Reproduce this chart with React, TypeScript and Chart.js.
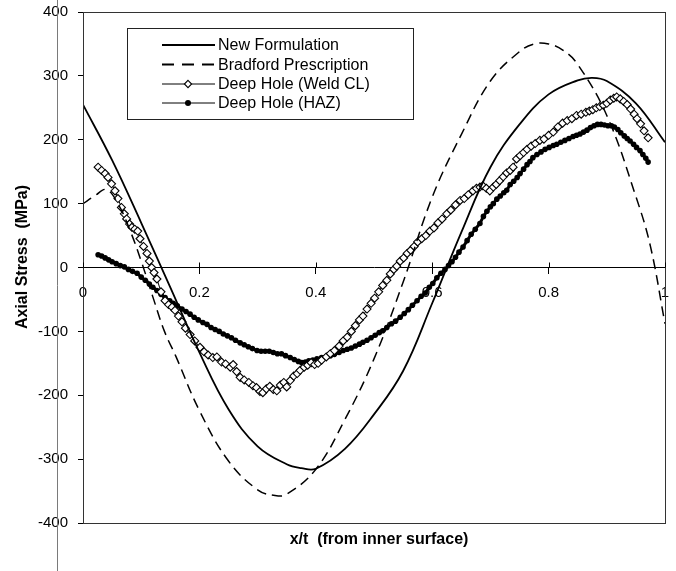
import React, { useEffect, useRef } from 'react';
import { Chart, registerables } from 'chart.js';

Chart.register(...registerables);

const FONT = '"Liberation Sans", Arial, Helvetica, sans-serif';

const xTickLabels = ['0', '0.2', '0.4', '0.6', '0.8', '1'];
const yTickValues = [-400, -300, -200, -100, 0, 100, 200, 300, 400];
const yTickLabels = ['-400', '-300', '-200', '-100', '0', '100', '200', '300', '400'];

const seriesNames = ['New Formulation', 'Bradford Prescription', 'Deep Hole (Weld CL)', 'Deep Hole (HAZ)'];

const newFormX = [0, 0.05, 0.1, 0.15, 0.2, 0.25, 0.3, 0.35, 0.375, 0.4, 0.45, 0.5, 0.55, 0.6, 0.65, 0.7, 0.75, 0.8, 0.85, 0.875, 0.9, 0.95, 1.0];
const newFormY = [255, 168, 70, -31, -133, -222, -280, -308, -314, -315, -284, -230, -162, -56, 55, 157, 224, 271, 293, 297, 292, 257, 196];

const bradfordX = [0, 0.02, 0.04, 0.06, 0.08, 0.1, 0.12, 0.14, 0.16, 0.2, 0.25, 0.3, 0.33, 0.35, 0.4, 0.45, 0.5, 0.55, 0.6, 0.65, 0.7, 0.75, 0.775, 0.8, 0.825, 0.85, 0.9, 0.95, 0.975, 1.0];
const bradfordY = [100, 112, 122, 100, 60, 10, -46, -100, -140, -224, -303, -348, -357, -355, -316, -238, -143, -23, 110, 208, 292, 338, 350, 350, 340, 318, 238, 111, 33, -88];

const weldX = [0.026, 0.032, 0.038, 0.043, 0.049, 0.055, 0.06, 0.066, 0.071, 0.075, 0.08, 0.084, 0.089, 0.094, 0.098, 0.104, 0.11, 0.114, 0.118, 0.122, 0.127, 0.134, 0.141, 0.147, 0.153, 0.158, 0.164, 0.17, 0.176, 0.184, 0.192, 0.201, 0.208, 0.215, 0.223, 0.23, 0.238, 0.245, 0.253, 0.258, 0.264, 0.27, 0.277, 0.285, 0.292, 0.298, 0.304, 0.309, 0.315, 0.321, 0.327, 0.333, 0.339, 0.345, 0.35, 0.356, 0.362, 0.368, 0.373, 0.38, 0.386, 0.392, 0.398, 0.404, 0.41, 0.418, 0.425, 0.432, 0.44, 0.447, 0.454, 0.461, 0.468, 0.475, 0.481, 0.488, 0.495, 0.501, 0.508, 0.515, 0.522, 0.528, 0.534, 0.539, 0.545, 0.551, 0.557, 0.563, 0.569, 0.575, 0.582, 0.589, 0.596, 0.603, 0.61, 0.617, 0.625, 0.632, 0.64, 0.648, 0.655, 0.662, 0.67, 0.676, 0.682, 0.687, 0.693, 0.699, 0.705, 0.71, 0.716, 0.722, 0.728, 0.734, 0.739, 0.745, 0.751, 0.757, 0.763, 0.77, 0.777, 0.785, 0.792, 0.8, 0.808, 0.816, 0.824, 0.832, 0.84, 0.848, 0.856, 0.864, 0.87, 0.876, 0.882, 0.888, 0.894, 0.9, 0.906, 0.912, 0.917, 0.923, 0.929, 0.935, 0.941, 0.947, 0.952, 0.958, 0.964, 0.971];
const weldY = [157, 152, 147, 141, 131, 120, 108, 94, 84, 76, 68, 63, 60, 57, 45, 33, 22, 10, 0, -8, -18, -38, -52, -58, -62, -67, -76, -85, -95, -105, -115, -125, -132, -137, -141, -140, -148, -151, -156, -152, -163, -172, -176, -180, -185, -188, -194, -196, -190, -186, -191, -193, -184, -180, -187, -177, -170, -166, -161, -156, -153, -149, -152, -150, -145, -140, -135, -130, -123, -115, -109, -100, -91, -82, -76, -65, -56, -48, -38, -28, -20, -10, -3, 2, 10, 15, 22, 27, 33, 40, 45, 50, 57, 62, 70, 76, 84, 90, 98, 105, 108, 114, 120, 124, 126, 128, 124, 120, 126, 130, 136, 142, 148, 152, 157, 170, 175, 180, 185, 190, 194, 199, 201, 207, 212, 220, 226, 230, 233, 238, 240, 243, 245, 247, 250, 252, 254, 257, 262, 265, 267, 264, 260, 255, 248, 240, 233, 225, 214, 203];

const hazX = [0.026, 0.032, 0.038, 0.044, 0.05, 0.057, 0.064, 0.071, 0.078, 0.085, 0.093, 0.1, 0.107, 0.114, 0.12, 0.127, 0.134, 0.141, 0.149, 0.155, 0.162, 0.17, 0.177, 0.184, 0.191, 0.198, 0.206, 0.213, 0.22, 0.227, 0.234, 0.241, 0.248, 0.255, 0.262, 0.27, 0.277, 0.284, 0.291, 0.299, 0.306, 0.313, 0.32, 0.327, 0.334, 0.341, 0.348, 0.356, 0.363, 0.37, 0.376, 0.382, 0.388, 0.395, 0.402, 0.41, 0.418, 0.425, 0.432, 0.44, 0.447, 0.454, 0.461, 0.468, 0.475, 0.481, 0.488, 0.495, 0.502, 0.509, 0.515, 0.522, 0.53, 0.537, 0.545, 0.552, 0.559, 0.566, 0.574, 0.581, 0.588, 0.595, 0.601, 0.608, 0.615, 0.622, 0.628, 0.634, 0.64, 0.646, 0.653, 0.66, 0.667, 0.674, 0.682, 0.688, 0.694, 0.7, 0.705, 0.711, 0.717, 0.723, 0.728, 0.734, 0.74, 0.746, 0.751, 0.757, 0.763, 0.768, 0.773, 0.78, 0.787, 0.794, 0.801, 0.808, 0.814, 0.821, 0.828, 0.835, 0.842, 0.848, 0.854, 0.86, 0.866, 0.872, 0.878, 0.884, 0.89, 0.896, 0.902, 0.908, 0.913, 0.919, 0.924, 0.93, 0.935, 0.94, 0.946, 0.951, 0.957, 0.962, 0.967, 0.971];
const hazY = [20, 18, 15, 12, 9, 6, 3, 1, -3, -6, -9, -15, -20, -26, -31, -36, -42, -47, -52, -56, -60, -65, -69, -73, -78, -82, -86, -89, -94, -97, -100, -104, -107, -110, -114, -118, -121, -124, -127, -130, -131, -131, -131, -133, -135, -135, -138, -141, -144, -147, -149, -148, -146, -145, -143, -141, -140, -138, -136, -133, -130, -128, -126, -123, -120, -117, -114, -110, -106, -102, -99, -94, -88, -84, -78, -72, -66, -59, -52, -45, -40, -31, -25, -16, -9, -3, 3, 9, 16, 24, 32, 42, 52, 60, 69, 80, 88, 95, 100, 107, 112, 117, 121, 130, 135, 141, 147, 154, 161, 166, 172, 177, 181, 185, 188, 191, 193, 196, 199, 202, 205, 207, 209, 212, 215, 219, 222, 224, 224, 223, 222, 222, 220, 216, 211, 206, 202, 198, 193, 188, 183, 177, 171, 165];

const toPts = (xs: number[], ys: number[]) => xs.map((x, i) => ({ x, y: ys[i] }));

const decorPlugin = {
  id: 'decor',
  afterDraw(chart: any) {
    const { ctx, chartArea } = chart;
    const { left, top, right, bottom } = chartArea;
    ctx.save();
    ctx.strokeStyle = '#7a7a7a';
    ctx.lineWidth = 1;
    ctx.beginPath();
    ctx.moveTo(57.5, 0);
    ctx.lineTo(57.5, chart.height);
    ctx.stroke();
    ctx.strokeStyle = '#333';
    ctx.lineWidth = 1;
    ctx.strokeRect(Math.round(left) + 0.5, Math.round(top) + 0.5, Math.round(right - left), Math.round(bottom - top));
    const xs = chart.scales.x;
    const y0 = chart.scales.y.getPixelForValue(0);
    ctx.strokeStyle = '#000';
    xs.ticks.forEach((t: any) => {
      const px = Math.round(xs.getPixelForValue(t.value)) + 0.5;
      ctx.beginPath();
      ctx.moveTo(px, y0 - 5);
      ctx.lineTo(px, y0);
      ctx.stroke();
    });
    ctx.fillStyle = '#000';
    ctx.font = `bold 16px ${FONT}`;
    ctx.textAlign = 'center';
    ctx.textBaseline = 'middle';
    ctx.fillText('x/t  (from inner surface)', 379, 540);
    ctx.save();
    ctx.translate(23, 257);
    ctx.rotate(-Math.PI / 2);
    ctx.fillText('Axial Stress  (MPa)', 0, 0);
    ctx.restore();
    const bx = 127.5, by = 28.5, bw = 286, bh = 91;
    ctx.fillStyle = '#fff';
    ctx.fillRect(bx, by, bw, bh);
    ctx.strokeStyle = '#222';
    ctx.lineWidth = 1;
    ctx.strokeRect(bx, by, bw, bh);
    const rows = [45, 64.5, 84, 103];
    const x1 = 162, x2 = 215, mx = 188;
    ctx.font = `16px ${FONT}`;
    ctx.textAlign = 'left';
    ctx.textBaseline = 'middle';
    rows.forEach((ry, i) => {
      ctx.strokeStyle = '#000';
      ctx.setLineDash(i === 1 ? [12, 8] : []);
      ctx.lineWidth = i < 2 ? 1.8 : 1;
      ctx.beginPath();
      ctx.moveTo(x1, ry);
      ctx.lineTo(x2, ry);
      ctx.stroke();
      ctx.setLineDash([]);
      if (i === 2) {
        ctx.fillStyle = '#fff';
        ctx.lineWidth = 1.1;
        ctx.beginPath();
        ctx.moveTo(mx, ry - 3.6);
        ctx.lineTo(mx + 3.6, ry);
        ctx.lineTo(mx, ry + 3.6);
        ctx.lineTo(mx - 3.6, ry);
        ctx.closePath();
        ctx.fill();
        ctx.stroke();
      } else if (i === 3) {
        ctx.fillStyle = '#000';
        ctx.beginPath();
        ctx.arc(mx, ry, 3, 0, Math.PI * 2);
        ctx.fill();
      }
      ctx.fillStyle = '#000';
      ctx.fillText(seriesNames[i], 218, ry + 1);
    });
    ctx.restore();
  },
};

export default function App() {
  const ref = useRef<HTMLCanvasElement | null>(null);
  useEffect(() => {
    if (!ref.current) return;
    const chart = new Chart(ref.current, {
      type: 'line',
      data: {
        datasets: [
          {
            label: seriesNames[0],
            data: toPts(newFormX, newFormY),
            borderColor: '#000',
            borderWidth: 1.8,
            pointRadius: 0,
            tension: 0.4,
            fill: false,
          },
          {
            label: seriesNames[1],
            data: toPts(bradfordX, bradfordY),
            borderColor: '#000',
            borderWidth: 1.5,
            borderDash: [10, 6],
            pointRadius: 0,
            tension: 0.4,
            fill: false,
          },
          {
            label: seriesNames[2],
            data: toPts(weldX, weldY),
            borderColor: '#000',
            borderWidth: 1,
            pointStyle: 'rectRot',
            pointRadius: 4,
            pointBackgroundColor: '#fff',
            pointBorderColor: '#000',
            pointBorderWidth: 1.1,
            tension: 0,
            fill: false,
          },
          {
            label: seriesNames[3],
            data: toPts(hazX, hazY),
            borderColor: '#000',
            borderWidth: 3,
            pointStyle: 'circle',
            pointRadius: 2.8,
            pointBackgroundColor: '#000',
            pointBorderWidth: 0,
            tension: 0,
            fill: false,
          },
        ],
      },
      options: {
        animation: false,
        responsive: true,
        maintainAspectRatio: false,
        layout: { padding: { top: 12, right: 11, bottom: 48, left: 0 } },
        plugins: { legend: { display: false }, tooltip: { enabled: false }, title: { display: false } },
        scales: {
          x: {
            type: 'linear',
            min: 0,
            max: 1,
            position: { y: 0 } as any,
            ticks: {
              stepSize: 0.2,
              autoSkip: false,
              maxRotation: 0,
              padding: 10,
              color: '#000',
              font: { size: 15, family: FONT },
              callback: (_v: any, i: number) => xTickLabels[i] ?? '',
            },
            grid: { display: true, drawOnChartArea: false, drawTicks: true, tickLength: 6, color: '#000' },
            border: { display: true, color: '#000', width: 1 },
            afterFit: (s: any) => {
              s.paddingLeft = 0;
              s.paddingRight = 0;
              s.paddingTop = 0;
              s.paddingBottom = 0;
            },
          },
          y: {
            type: 'linear',
            min: -400,
            max: 400,
            ticks: {
              stepSize: 100,
              padding: 10,
              color: '#000',
              font: { size: 15, family: FONT },
              callback: (v: any) => {
                const k = yTickValues.indexOf(Math.round(Number(v)));
                return k >= 0 ? yTickLabels[k] : '';
              },
            },
            grid: { display: true, drawOnChartArea: false, drawTicks: true, tickLength: 5, color: '#000' },
            border: { display: true, color: '#000', width: 1 },
            afterFit: (s: any) => {
              s.width = 83;
              s.paddingTop = 0;
              s.paddingBottom = 0;
              s.paddingLeft = 0;
              s.paddingRight = 0;
            },
          },
        },
      },
      plugins: [decorPlugin],
    } as any);
    return () => chart.destroy();
  }, []);
  return (
    <div style={{ position: 'fixed', left: 0, top: 0, width: 676, height: 571, background: '#fff' }}>
      <canvas ref={ref} />
    </div>
  );
}
